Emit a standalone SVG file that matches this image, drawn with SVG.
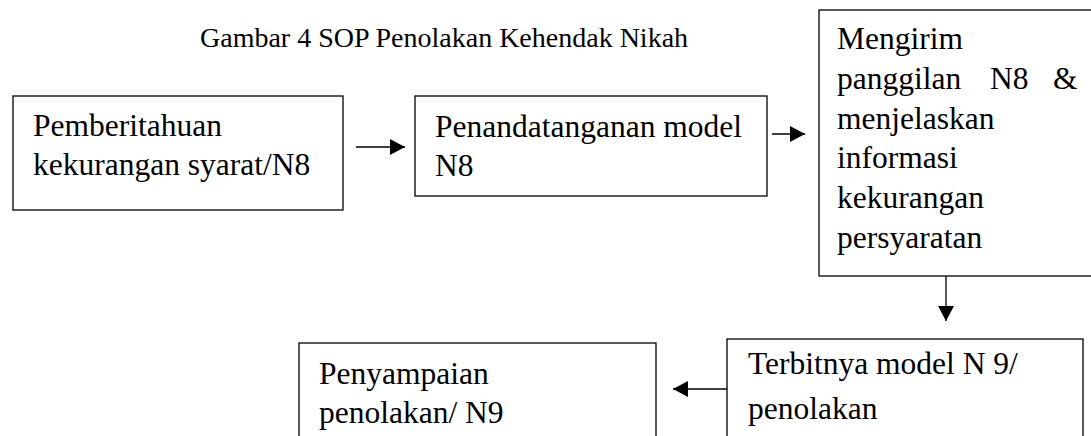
<svg xmlns="http://www.w3.org/2000/svg" width="1091" height="436" viewBox="0 0 1091 436">
<style>
.box{fill:#fff;stroke:#000;stroke-width:1.3}
.t{font-family:"Liberation Serif","Times New Roman",serif;font-size:31.5px;fill:#000}
.title{font-family:"Liberation Serif","Times New Roman",serif;font-size:28px;fill:#000}
.c{stroke:#000;stroke-width:1.3;fill:none;marker-end:url(#ah)}
</style>
<defs>
<marker id="ah" viewBox="0 0 15 16" refX="15" refY="8" markerWidth="15" markerHeight="16" markerUnits="userSpaceOnUse" orient="auto">
<path d="M0,0 L15,8 L0,16 Z" fill="#000"/>
</marker>
</defs>
<rect width="1091" height="436" fill="#fff"/>
<text class="title" x="200" y="47">Gambar 4 SOP Penolakan Kehendak Nikah</text>
<g id="connectors">
<line class="c" x1="356" y1="147" x2="405" y2="147"/>
<line class="c" x1="772" y1="134" x2="805" y2="134"/>
<line class="c" x1="946" y1="276" x2="946" y2="321"/>
<line class="c" x1="727" y1="389" x2="673" y2="389"/>
</g>
<g id="n1">
<rect class="box" x="13" y="96" width="330" height="114"/>
<text class="t" x="33" y="136">Pemberitahuan</text>
<text class="t" x="33" y="175">kekurangan syarat/N8</text>
</g>
<g id="n2">
<rect class="box" x="415" y="96" width="352" height="100"/>
<text class="t" x="435" y="137">Penandatanganan model</text>
<text class="t" x="435" y="176">N8</text>
</g>
<g id="n3">
<rect class="box" x="819" y="10" width="280" height="266"/>
<text class="t" x="837" y="49">Mengirim</text>
<text class="t" y="89"><tspan x="837">panggilan</tspan><tspan x="990">N8</tspan><tspan x="1053">&amp;</tspan></text>
<text class="t" x="837" y="129">menjelaskan</text>
<text class="t" x="837" y="168">informasi</text>
<text class="t" x="837" y="208">kekurangan</text>
<text class="t" x="837" y="248">persyaratan</text>
</g>
<g id="n4">
<rect class="box" x="727" y="339" width="356" height="110"/>
<text class="t" x="748" y="374">Terbitnya model N 9/</text>
<text class="t" x="748" y="419">penolakan</text>
</g>
<g id="n5">
<rect class="box" x="299" y="343" width="357" height="110"/>
<text class="t" x="319" y="384">Penyampaian</text>
<text class="t" x="319" y="423">penolakan/ N9</text>
</g>
</svg>
